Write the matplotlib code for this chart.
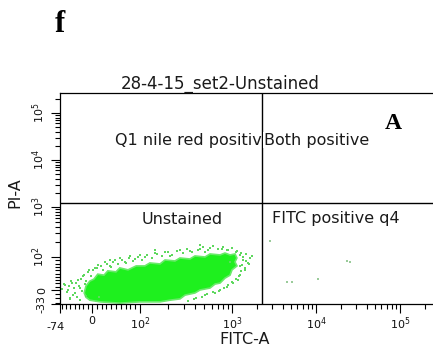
import numpy as np
import matplotlib
matplotlib.use("Agg")
import matplotlib.pyplot as plt

# ---------------- data ----------------
# dense core of the event cloud (outline, FITC-A / PI-A values)
cloud_fitc = [-18, -14, -5, 4, 12, 25, 33, 50, 58, 75, 92, 113, 128, 165, 187, 240, 272, 349, 396,
              509, 577, 741, 839, 952, 1086, 1144, 1086, 1147, 1000, 952, 839, 741, 654, 577, 449,
              396, 309, 272, 212, 165, 100, 58, 17, -5, -14]
cloud_pi = [-7, 12, 27, 33, 48, 45, 58, 55, 67, 61, 73, 73, 82, 79, 91, 88, 97, 94, 105,
            100, 115, 110, 120, 110, 115, 97, 85, 73, 61, 45, 36, 21, 18, 6, 0,
            -7, -12, -21, -24, -28, -28, -31, -28, -24, -17]

# scattered single events around the core
stray_fitc = [-62, -55, -46, -39, -32, -28, -21, -16, -14, -7, 6, 12, 27, 37, 48, 58, 69, 79, 90,
              100, 113, 146, 187, 212, 272, 349, 449, 509, 577, 778, 905, 1116, 1245, 1352, 1468,
              1551, 1428, 1245, 1179, 1000, 884, 741, 654, 509, 406, 1245, 1638, 952, -51,
              -69, -65, -58, -53, -49, -44, -42, -37, -35, -30, -25, -23, -18, -14, -9, -2, 2, 10,
              19, 23, 31, 40, 44, 54, 62, 71, 77, 85, 96, 105, 119, 135, 153, 173, 202, 223, 252,
              293, 324, 367, 427, 484, 549, 622, 704, 798, 884, 1000, 1147, 1279, 1362, 1451,
              1320, 1410, 1279, 1211, 1116, 1028, 905, 818, 720, 622, 529, 467, 382, 333, 15,
              -28, -51, 37, 146, 449, 1727, 1594]
stray_pi = [15, 0, 21, -7, 30, 6, 42, 18, -14, 61, 67, 76, 85, 73, 91, 97, 85, 105, 94,
            110, 100, 120, 126, 105, 138, 132, 145, 126, 151, 145, 138, 126, 110, 91, 115,
            82, 61, 45, 30, 24, 9, 0, -7, -12, -19, 73, 97, 85, -19,
            3, 18, -5, 12, 27, -12, 6, 21, -17, 12, 33, -2, 45, 27, 55, 42, 61, 67,
            73, 61, 79, 70, 85, 79, 91, 82, 97, 88, 100, 91, 110, 97, 115, 105, 126, 110, 132,
            120, 145, 126, 138, 158, 138, 166, 145, 158, 138, 151, 132, 120, 100, 88,
            76, 67, 58, 42, 33, 21, 15, 6, -2, -5, -9, -17, -21, -26, -17,
            -24, -21, 91, 138, 174, 105, 79]

# a few events in the FITC positive quadrant
q4_fitc = [2835, 4520, 5180, 10500, 23400, 25400]
q4_pi = [209, 24, 24, 33, 88, 85]

gate_fitc = 2280
gate_pi = 1200

x_major = [-74, 0, 100, 1000, 10000, 100000]
x_major_labels = ['', '0', r'$10^2$', r'$10^3$', r'$10^4$', r'$10^5$']
y_major = [-33, 0, 100, 1000, 10000, 100000]
y_major_labels = ['-33', '0', r'$10^2$', r'$10^3$', r'$10^4$', r'$10^5$']

title = '28-4-15_set2-Unstained'
quadrant_labels = ['Q1 nile red positive', 'Both positive', 'Unstained', 'FITC positive q4']

# ---------------- scales (biexponential-like display) ----------------
def fx(v):
    v = np.asarray(v, float)
    return np.where(v < 0, v * 32 / 74,
           np.where(v <= 100, v * 0.48,
           np.where(v <= 1000, 48 + 92 * np.log10(np.maximum(v, 100) / 100),
                    140 + 84 * np.log10(np.maximum(v, 1000) / 1000))))

def fx_inv(p):
    p = np.asarray(p, float)
    return np.where(p < 0, p * 74 / 32,
           np.where(p <= 48, p / 0.48,
           np.where(p <= 140, 100 * 10 ** ((np.clip(p, 48, 140) - 48) / 92),
                    1000 * 10 ** ((np.maximum(p, 140) - 140) / 84))))

def fy(v):
    v = np.asarray(v, float)
    return np.where(v < 0, v * 14 / 33,
           np.where(v <= 100, v * 0.33,
           np.where(v <= 1000, 33 + 50 * np.log10(np.maximum(v, 100) / 100),
                    83 + 47 * np.log10(np.maximum(v, 1000) / 1000))))

def fy_inv(p):
    p = np.asarray(p, float)
    return np.where(p < 0, p * 33 / 14,
           np.where(p <= 33, p / 0.33,
           np.where(p <= 83, 100 * 10 ** ((np.clip(p, 33, 83) - 33) / 50),
                    1000 * 10 ** ((np.maximum(p, 83) - 83) / 47))))

W, H = 433, 354
fig = plt.figure(figsize=(W / 100, H / 100), dpi=100)
plt.rcParams['font.family'] = ['DejaVu Sans']

xmin, xmax = -74, 262144
ymin, ymax = -33, 262144
xspan = float(fx(xmax) - fx(xmin))
yspan = float(fy(ymax) - fy(ymin))
ax_left, ax_bottom = 60, 304
ax = fig.add_axes([ax_left / W, (H - ax_bottom) / H, xspan / W, yspan / H])
ax.set_xscale('function', functions=(fx, fx_inv))
ax.set_yscale('function', functions=(fy, fy_inv))
ax.set_xlim(xmin, xmax)
ax.set_ylim(ymin, ymax)

green = '#1ef01e'
ax.fill(cloud_fitc, cloud_pi, facecolor=green, edgecolor='#6aea6a', lw=1.2, zorder=2)
ax.scatter(stray_fitc, stray_pi, s=1.3, marker='s', color='#5ed85e', lw=0, zorder=2)
ax.scatter(q4_fitc, q4_pi, s=1.5, marker='s', color='#9acb9a', lw=0, zorder=2)

ax.axvline(gate_fitc, color='black', lw=1.0, zorder=3)
ax.axhline(gate_pi, color='black', lw=1.0, zorder=3)

# ticks
x_minor = [-70, -60, -50, -40, -30, -20, -10] + list(range(10, 100, 10)) + \
          list(range(200, 1000, 100)) + list(range(2000, 10000, 1000)) + \
          list(range(20000, 100000, 10000)) + [200000]
y_minor = [-30, -20, -10] + list(range(10, 100, 10)) + \
          list(range(200, 1000, 100)) + list(range(2000, 10000, 1000)) + \
          list(range(20000, 100000, 10000)) + [200000]
ax.set_xticks(x_major)
ax.set_xticklabels(x_major_labels)
ax.set_xticks(x_minor, minor=True)
ax.set_yticks(y_major)
ax.set_yticklabels(y_major_labels)
ax.set_yticks(y_minor, minor=True)
ax.tick_params(which='major', length=6.5, width=0.8, labelsize=8, pad=2, labelcolor='#111111')
ax.tick_params(which='minor', length=3.6, width=0.8)
ax.tick_params(axis='y', labelrotation=90, pad=3)
for lbl in ax.get_yticklabels():
    lbl.set_va('center')
for s in ax.spines.values():
    s.set_linewidth(0.9)

ax.annotate('-74', xy=(-74, 0), xycoords=('data', 'axes fraction'),
            xytext=(-3, -13), textcoords='offset points', ha='center', va='top', fontsize=8,
            color='#111111')

def ft(x, y, s, **kw):
    fig.text(x / W, 1 - y / H, s, **kw)

tc = '#1a1a1a'
ft(220, 89, title, ha='center', va='baseline', fontsize=12, color=tc, zorder=10)
ft(245, 340, 'FITC-A', ha='center', va='center', fontsize=11.5, color=tc)
ft(15, 193, 'PI-A', ha='center', va='center', rotation=90, fontsize=11.5, color=tc)

ft(115, 140, quadrant_labels[0], ha='left', va='center', fontsize=11.5, color=tc)
ft(264, 140, quadrant_labels[1], ha='left', va='center', fontsize=11.5, color=tc,
   bbox=dict(facecolor='white', edgecolor='none', pad=0.5))
ft(142, 219, quadrant_labels[2], ha='left', va='center', fontsize=11.5, color=tc)
ft(272, 219, quadrant_labels[3], ha='left', va='center', fontsize=11.5, color=tc)

ft(385, 129, 'A', ha='left', va='baseline', fontsize=17, fontweight='bold', family='Liberation Serif')
ft(55, 32, 'f', ha='left', va='baseline', fontsize=22, fontweight='bold', family='Liberation Serif')

fig.savefig('out.png', dpi=100)
